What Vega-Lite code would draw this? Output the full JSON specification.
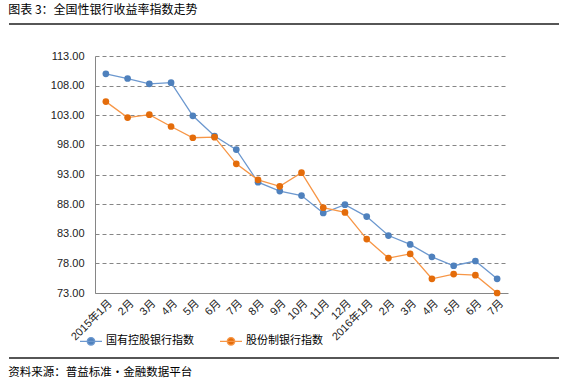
{
  "$schema": "https://vega.github.io/schema/vega-lite/v6.json",
  "background": "white",
  "padding": {"left": 8, "top": 4, "right": 5, "bottom": 4},
  "spacing": 7,
  "config": {"view": {"stroke": null}, "font": "Noto Sans CJK SC"},
  "datasets": {
    "frame": [{"a": 0, "b": 1, "top": 1, "bottom": 0}],
    "series": [
      {"m": "2015-01", "s": "国有控股银行指数", "v": 110.0},
      {"m": "2015-02", "s": "国有控股银行指数", "v": 109.2},
      {"m": "2015-03", "s": "国有控股银行指数", "v": 108.3},
      {"m": "2015-04", "s": "国有控股银行指数", "v": 108.5},
      {"m": "2015-05", "s": "国有控股银行指数", "v": 102.9},
      {"m": "2015-06", "s": "国有控股银行指数", "v": 99.5},
      {"m": "2015-07", "s": "国有控股银行指数", "v": 97.2},
      {"m": "2015-08", "s": "国有控股银行指数", "v": 91.7},
      {"m": "2015-09", "s": "国有控股银行指数", "v": 90.2},
      {"m": "2015-10", "s": "国有控股银行指数", "v": 89.45},
      {"m": "2015-11", "s": "国有控股银行指数", "v": 86.5},
      {"m": "2015-12", "s": "国有控股银行指数", "v": 87.9},
      {"m": "2016-01", "s": "国有控股银行指数", "v": 85.9},
      {"m": "2016-02", "s": "国有控股银行指数", "v": 82.7},
      {"m": "2016-03", "s": "国有控股银行指数", "v": 81.2},
      {"m": "2016-04", "s": "国有控股银行指数", "v": 79.1},
      {"m": "2016-05", "s": "国有控股银行指数", "v": 77.6},
      {"m": "2016-06", "s": "国有控股银行指数", "v": 78.4},
      {"m": "2016-07", "s": "国有控股银行指数", "v": 75.4},
      {"m": "2015-01", "s": "股份制银行指数", "v": 105.3},
      {"m": "2015-02", "s": "股份制银行指数", "v": 102.6},
      {"m": "2015-03", "s": "股份制银行指数", "v": 103.1},
      {"m": "2015-04", "s": "股份制银行指数", "v": 101.1},
      {"m": "2015-05", "s": "股份制银行指数", "v": 99.2},
      {"m": "2015-06", "s": "股份制银行指数", "v": 99.3},
      {"m": "2015-07", "s": "股份制银行指数", "v": 94.8},
      {"m": "2015-08", "s": "股份制银行指数", "v": 92.1},
      {"m": "2015-09", "s": "股份制银行指数", "v": 91.0},
      {"m": "2015-10", "s": "股份制银行指数", "v": 93.3},
      {"m": "2015-11", "s": "股份制银行指数", "v": 87.4},
      {"m": "2015-12", "s": "股份制银行指数", "v": 86.6},
      {"m": "2016-01", "s": "股份制银行指数", "v": 82.1},
      {"m": "2016-02", "s": "股份制银行指数", "v": 78.9},
      {"m": "2016-03", "s": "股份制银行指数", "v": 79.6},
      {"m": "2016-04", "s": "股份制银行指数", "v": 75.4},
      {"m": "2016-05", "s": "股份制银行指数", "v": 76.2},
      {"m": "2016-06", "s": "股份制银行指数", "v": 76.0},
      {"m": "2016-07", "s": "股份制银行指数", "v": 73.0}
    ]
  },
  "vconcat": [
    {
      "width": 464,
      "height": 19,
      "title": {"text": "图表 3：全国性银行收益率指数走势", "anchor": "start", "fontSize": 12, "fontWeight": "normal", "color": "#000", "offset": 6, "font": "Noto Sans CJK SC"},
      "data": {"name": "frame"},
      "mark": {"type": "rule", "color": "#1e1e1e", "strokeWidth": 1.6},
      "encoding": {
        "x": {"field": "a", "type": "quantitative", "scale": {"domain": [0, 1], "range": [-86, 464], "nice": false, "zero": false}, "axis": null},
        "x2": {"field": "b"},
        "y": {"field": "top", "type": "quantitative", "scale": {"domain": [0, 1], "nice": false}, "axis": null}
      }
    },
    {
      "width": 413,
      "height": 237,
      "data": {"name": "series"},
      "encoding": {
        "x": {"field": "m", "type": "ordinal",
          "axis": {"title": null, "labelAngle": -45, "ticks": false, "labelPadding": 4, "domainColor": "#868686", "grid": false,
            "labelExpr": "datum.value == '2015-01' ? '2015年1月' : datum.value == '2016-01' ? '2016年1月' : toNumber(substring(datum.value, 5, 7)) + '月'",
            "labelFontSize": 11, "labelFont": "Liberation Sans, Noto Sans CJK SC", "labelColor": "#222"}},
        "y": {"field": "v", "type": "quantitative", "scale": {"domain": [73, 113], "nice": false, "zero": false},
          "axis": {"values": [73, 78, 83, 88, 93, 98, 103, 108, 113], "format": ".2f", "title": null, "ticks": false, "labelPadding": 11,
            "minExtent": 86, "maxExtent": 86, "domainColor": "#868686", "gridColor": "#868686", "gridDash": [4, 3], "grid": true,
            "labelFontSize": 11, "labelFont": "Liberation Sans", "labelColor": "#222"}}
      },
      "layer": [
        {
          "mark": {"type": "line", "strokeWidth": 1.3},
          "encoding": {
            "color": {"field": "s", "type": "nominal",
              "scale": {"domain": ["国有控股银行指数", "股份制银行指数"], "range": ["#6C98CF", "#F79646"]},
              "legend": {"orient": "none", "legendX": -16, "legendY": 305, "direction": "horizontal", "title": null,
                "symbolType": "M-1,0H1M-0.34,0A0.34,0.34,0,1,0,0.34,0A0.34,0.34,0,1,0,-0.34,0Z",
                "symbolSize": 484, "symbolStrokeWidth": 1.3, "labelFontSize": 11, "labelFont": "Noto Sans CJK SC", "labelColor": "#000",
                "labelOffset": 3, "columnPadding": 23, "padding": 0,
                "encode": {"symbols": {"update": {"fill": {"scale": "fill", "field": "value"}}}}}
            }
          }
        },
        {
          "mark": {"type": "point", "filled": true, "size": 45, "opacity": 1},
          "encoding": {
            "fill": {"field": "s", "type": "nominal",
              "scale": {"domain": ["国有控股银行指数", "股份制银行指数"], "range": ["#4F81BD", "#E46C0A"]},
              "legend": null}
          }
        }
      ]
    },
    {
      "width": 464,
      "height": 9,
      "title": {"text": "资料来源：普益标准・金融数据平台", "orient": "bottom", "anchor": "start", "fontSize": 11.5, "fontWeight": "normal", "color": "#000", "offset": 8, "font": "Noto Sans CJK SC"},
      "data": {"name": "frame"},
      "mark": {"type": "rule", "color": "#1e1e1e", "strokeWidth": 1.5},
      "encoding": {
        "x": {"field": "a", "type": "quantitative", "scale": {"domain": [0, 1], "range": [-86, 464], "nice": false, "zero": false}, "axis": null},
        "x2": {"field": "b"},
        "y": {"field": "bottom", "type": "quantitative", "scale": {"domain": [0, 1], "nice": false}, "axis": null}
      }
    }
  ]
}
